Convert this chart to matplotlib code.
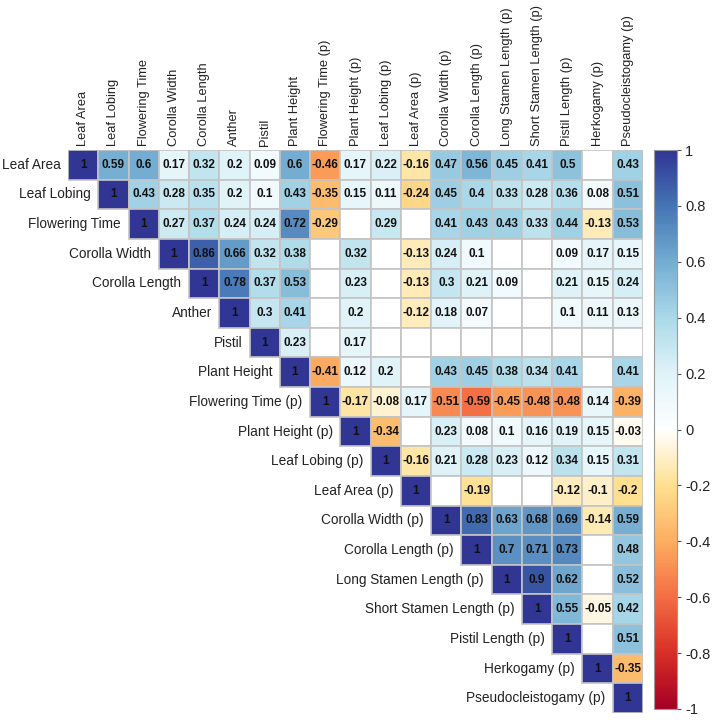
import numpy as np
import matplotlib
matplotlib.use("Agg")
import matplotlib.pyplot as plt
from matplotlib.patches import Rectangle
from matplotlib.colors import Normalize, LinearSegmentedColormap
from matplotlib.cm import ScalarMappable

plt.rcParams['font.family'] = ['Liberation Sans', 'DejaVu Sans']
plt.rcParams['axes.unicode_minus'] = False

labels = ["Leaf Area", "Leaf Lobing", "Flowering Time", "Corolla Width", "Corolla Length",
          "Anther", "Pistil", "Plant Height", "Flowering Time (p)", "Plant Height (p)",
          "Leaf Lobing (p)", "Leaf Area (p)", "Corolla Width (p)", "Corolla Length (p)",
          "Long Stamen Length (p)", "Short Stamen Length (p)", "Pistil Length (p)",
          "Herkogamy (p)", "Pseudocleistogamy (p)"]

# upper triangle, row i starts at column i; None = not significant (blank cell)
N = None
rows = [
    [1, 0.59, 0.6, 0.17, 0.32, 0.2, 0.09, 0.6, -0.46, 0.17, 0.22, -0.16, 0.47, 0.56, 0.45, 0.41, 0.5, N, 0.43],
    [1, 0.43, 0.28, 0.35, 0.2, 0.1, 0.43, -0.35, 0.15, 0.11, -0.24, 0.45, 0.4, 0.33, 0.28, 0.36, 0.08, 0.51],
    [1, 0.27, 0.37, 0.24, 0.24, 0.72, -0.29, N, 0.29, N, 0.41, 0.43, 0.43, 0.33, 0.44, -0.13, 0.53],
    [1, 0.86, 0.66, 0.32, 0.38, N, 0.32, N, -0.13, 0.24, 0.1, N, N, 0.09, 0.17, 0.15],
    [1, 0.78, 0.37, 0.53, N, 0.23, N, -0.13, 0.3, 0.21, 0.09, N, 0.21, 0.15, 0.24],
    [1, 0.3, 0.41, N, 0.2, N, -0.12, 0.18, 0.07, N, N, 0.1, 0.11, 0.13],
    [1, 0.23, N, 0.17, N, N, N, N, N, N, N, N, N],
    [1, -0.41, 0.12, 0.2, N, 0.43, 0.45, 0.38, 0.34, 0.41, N, 0.41],
    [1, -0.17, -0.08, 0.17, -0.51, -0.59, -0.45, -0.48, -0.48, 0.14, -0.39],
    [1, -0.34, N, 0.23, 0.08, 0.1, 0.16, 0.19, 0.15, -0.03],
    [1, -0.16, 0.21, 0.28, 0.23, 0.12, 0.34, 0.15, 0.31],
    [1, N, -0.19, N, N, -0.12, -0.1, -0.2],
    [1, 0.83, 0.63, 0.68, 0.69, -0.14, 0.59],
    [1, 0.7, 0.71, 0.73, N, 0.48],
    [1, 0.9, 0.62, N, 0.52],
    [1, 0.55, -0.05, 0.42],
    [1, N, 0.51],
    [1, -0.35],
    [1],
]

# corrplot-style RdYlBu with a white centre
cmap = LinearSegmentedColormap.from_list("rdylbu_w", [
    "#A50026", "#D73027", "#F46D43", "#FDAE61", "#FEE090", "#FFFFFF",
    "#E0F3F8", "#ABD9E9", "#74ADD1", "#4575B4", "#313695"])
norm = Normalize(-1, 1)
n = len(labels)

fig = plt.figure(figsize=(7.15, 7.2), dpi=100)
ax = fig.add_axes([68 / 715, 7 / 720, 575 / 715, 563 / 720])
ax.set_xlim(-0.5, n - 0.5)
ax.set_ylim(n - 0.5, -0.5)
ax.axis("off")

for i, row in enumerate(rows):
    for k, v in enumerate(row):
        j = i + k
        fc = "white" if v is None else cmap(norm(v))
        ax.add_patch(Rectangle((j - 0.5, i - 0.5), 1, 1, facecolor=fc,
                               edgecolor="#c4c4c4", lw=1.2, zorder=1))
        if v is not None:
            ax.text(j, i, f"{v:g}", ha="center", va="center", fontsize=8.5,
                    fontweight="bold", color="#111111", zorder=3)
    # row label
    ax.text(i - 0.5 - 0.25, i, labels[i], ha="right", va="center",
            fontsize=9.8, color="#222222")
    # column label
    ax.text(i, -0.5 - 0.15, labels[i], ha="center", va="bottom", rotation=90,
            fontsize=9.3, color="#222222")

# colorbar
cax = fig.add_axes([654 / 715, 11 / 720, 23 / 715, 559 / 720])
sm = ScalarMappable(norm=norm, cmap=cmap)
ticks = np.round(np.arange(-1, 1.01, 0.2), 1)
cb = fig.colorbar(sm, cax=cax, ticks=ticks)
cb.ax.set_yticklabels([f"{t:g}" if abs(t) > 1e-9 else "0" for t in ticks])
cb.ax.tick_params(labelsize=10.5, length=3, color="#555555", labelcolor="#222222", pad=3)
cb.outline.set_edgecolor("#999999")
cb.outline.set_linewidth(0.8)

fig.savefig("out.png", dpi=100)
